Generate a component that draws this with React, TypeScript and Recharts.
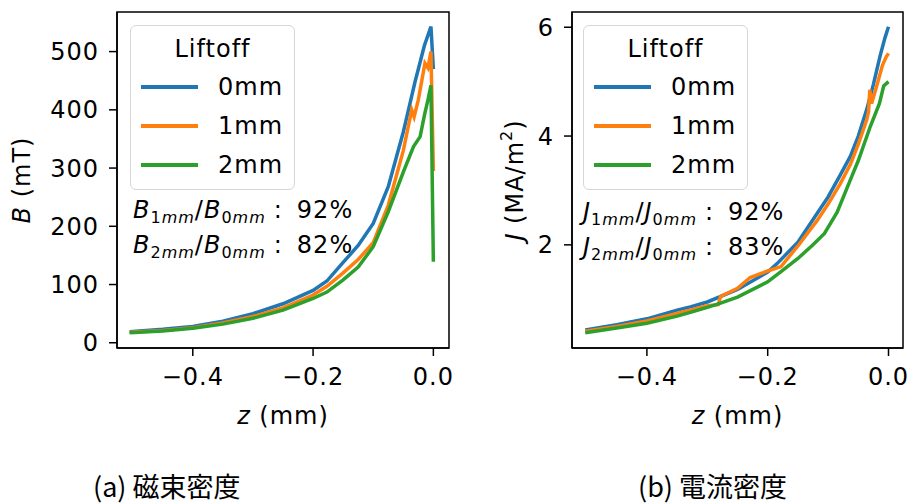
import React from 'react';
import { LineChart, Line, XAxis, YAxis, Legend, ReferenceArea } from 'recharts';

const FONT = '"DejaVu Sans", sans-serif';
const COLORS = ['#1f77b4', '#ff7f0e', '#2ca02c'];
const SERIES = ['0mm', '1mm', '2mm'];

// (a) magnetic flux density B (mT) vs z (mm)
const bZ0 = [-0.505, -0.45, -0.4, -0.35, -0.3, -0.25, -0.2, -0.177, -0.15, -0.125, -0.1, -0.075, -0.05, -0.03, -0.015, -0.004, 0];
const bVal0 = [19, 23, 28, 37, 50, 67, 90, 106, 138, 167, 205, 268, 362, 450, 510, 543, 470];
const bZ1 = [-0.505, -0.45, -0.4, -0.35, -0.3, -0.25, -0.2, -0.177, -0.15, -0.125, -0.1, -0.075, -0.05, -0.036, -0.032, -0.025, -0.014, -0.009, -0.004, 0];
const bVal1 = [18, 21, 26, 34, 45, 60, 82, 97, 120, 143, 172, 236, 330, 400, 388, 417, 480, 472, 500, 295];
const bZ2 = [-0.505, -0.45, -0.4, -0.35, -0.3, -0.25, -0.2, -0.177, -0.15, -0.125, -0.1, -0.075, -0.05, -0.033, -0.022, -0.015, -0.009, -0.004, 0];
const bVal2 = [17, 20, 25, 32, 42, 56, 76, 87, 108, 130, 165, 225, 293, 337, 354, 390, 417, 442, 139];
const bTicks = [0, 100, 200, 300, 400, 500];

// (b) current density J (MA/m2) vs z (mm)
const jZ0 = [-0.502, -0.45, -0.4, -0.35, -0.328, -0.3, -0.25, -0.2, -0.184, -0.15, -0.118, -0.1, -0.08, -0.063, -0.05, -0.036, -0.025, -0.014, -0.006, 0];
const jVal0 = [0.435, 0.53, 0.64, 0.8, 0.86, 0.95, 1.18, 1.5, 1.66, 2.05, 2.58, 2.88, 3.28, 3.63, 4.0, 4.49, 4.95, 5.47, 5.8, 6.01];
const jZ1 = [-0.502, -0.45, -0.4, -0.35, -0.3, -0.282, -0.278, -0.25, -0.229, -0.2, -0.178, -0.15, -0.118, -0.1, -0.08, -0.063, -0.05, -0.036, -0.033, -0.031, -0.028, -0.02, -0.01, -0.004, 0];
const jVal1 = [0.41, 0.5, 0.6, 0.74, 0.88, 0.9, 1.05, 1.2, 1.4, 1.52, 1.6, 1.98, 2.45, 2.75, 3.12, 3.48, 3.85, 4.3, 4.45, 4.85, 4.6, 4.9, 5.3, 5.45, 5.52];
const jZ2 = [-0.502, -0.45, -0.4, -0.35, -0.328, -0.3, -0.278, -0.25, -0.2, -0.178, -0.15, -0.125, -0.106, -0.085, -0.063, -0.05, -0.03, -0.015, -0.008, 0];
const jVal2 = [0.385, 0.47, 0.56, 0.69, 0.76, 0.85, 0.93, 1.04, 1.32, 1.51, 1.75, 2.0, 2.21, 2.6, 3.2, 3.55, 4.18, 4.6, 4.92, 5.0];
const jTicks = [2, 4, 6];

const zTicks = [-0.4, -0.2, 0];

const toRows = (zs: number[], vs: number[]) => zs.map((z, i) => ({ z, v: vs[i] }));

const fmtZ = (v: number) => (v === 0 ? '0.0' : '\u2212' + Math.abs(v).toFixed(1));

const tickStyle = { fontSize: 24, fill: '#000', fontFamily: FONT, letterSpacing: 1 };
const lineStyle = { stroke: '#000', strokeWidth: 1.5 };

function LegendBox({ payload }: any) {
    return (
        <div style={{
            width: 165, height: 165, boxSizing: 'border-box',
            border: '1.5px solid #d6d6d6', borderRadius: 6,
            background: 'rgba(255,255,255,0.85)', fontFamily: FONT,
            fontSize: 24, letterSpacing: 1, color: '#000', padding: '8px 0 0 0'
        }}>
            <div style={{ textAlign: 'center', lineHeight: '30px', marginBottom: 3 }}>Liftoff</div>
            {(payload || []).map((p: any) => (
                <div key={p.value} style={{ display: 'flex', alignItems: 'center', height: 39 }}>
                    <div style={{ width: 57, height: 4, background: p.color, marginLeft: 10, marginRight: 20 }} />
                    <span>{p.value}</span>
                </div>
            ))}
        </div>
    );
}

const xLabel = ({ viewBox }: any) => {
    const cx = viewBox.x + viewBox.width / 2;
    const cy = viewBox.y + 68;
    return (
        <text x={cx} y={cy} textAnchor="middle" dominantBaseline="central" fontSize={24} fontFamily={FONT} letterSpacing={1} fill="#000">
            <tspan fontStyle="italic">z</tspan> (mm)
        </text>
    );
};

const bLabel = ({ viewBox }: any) => {
    const cx = viewBox.x + 22;
    const cy = viewBox.y + viewBox.height / 2;
    return (
        <text x={cx} y={cy} transform={`rotate(-90 ${cx} ${cy})`} textAnchor="middle" dominantBaseline="central" fontSize={24} fontFamily={FONT} letterSpacing={1} fill="#000">
            <tspan fontStyle="italic">B</tspan> (mT)
        </text>
    );
};

const jLabel = ({ viewBox }: any) => {
    const cx = viewBox.x + 55;
    const cy = viewBox.y + viewBox.height / 2;
    return (
        <text x={cx} y={cy} transform={`rotate(-90 ${cx} ${cy})`} textAnchor="middle" dominantBaseline="central" fontSize={24} fontFamily={FONT} letterSpacing={1} fill="#000">
            <tspan fontStyle="italic">J</tspan> (MA/m<tspan fontSize={16} dy={-9}>2</tspan><tspan dy={9}>)</tspan>
        </text>
    );
};

function Panel({ width, yWidth, xDomain, yDomain, yTicks, series, yLabel, legendLeft }: any) {
    return (
        <LineChart width={width} height={440} margin={{ top: 12, right: 11, bottom: 12, left: 0 }}>
            <XAxis
                type="number" dataKey="z" domain={xDomain} ticks={zTicks} allowDataOverflow
                tickFormatter={fmtZ} tick={tickStyle} tickSize={8} tickMargin={12}
                axisLine={lineStyle} tickLine={lineStyle} height={80} label={xLabel}
            />
            <YAxis
                type="number" domain={yDomain} ticks={yTicks} allowDataOverflow
                tick={tickStyle} tickSize={8} tickMargin={10}
                axisLine={lineStyle} tickLine={lineStyle} width={yWidth} label={yLabel}
            />
            <ReferenceArea
                x1={xDomain[0]} x2={xDomain[1]} y1={yDomain[0]} y2={yDomain[1]}
                fill="none" fillOpacity={0} stroke="#000" strokeWidth={1.5} ifOverflow="visible"
            />
            <Legend
                layout="vertical" align="center" verticalAlign="middle"
                content={LegendBox}
                wrapperStyle={{ position: 'absolute', left: legendLeft, top: 25, width: 165, height: 165 }}
            />
            {series.map((d: any, i: number) => (
                <Line
                    key={SERIES[i]} name={SERIES[i]} data={d} dataKey="v" type="linear"
                    stroke={COLORS[i]} strokeWidth={3.5} dot={false} isAnimationActive={false}
                />
            ))}
        </LineChart>
    );
}

const annStyle: React.CSSProperties = {
    position: 'absolute', fontFamily: FONT, fontSize: 24, letterSpacing: 1, lineHeight: '32px', color: '#000', whiteSpace: 'nowrap'
};
const subStyle: React.CSSProperties = { fontSize: 16, position: 'relative', top: 5 };

function Ratio({ sym, a, b, pct }: { sym: string; a: string; b: string; pct: string }) {
    return (
        <div>
            <i>{sym}</i><span style={subStyle}>{a}<i>mm</i></span>/<i>{sym}</i><span style={subStyle}>{b}<i>mm</i></span>
            <span style={{ margin: '0 14px 0 8px' }}>:</span>{pct}
        </div>
    );
}

const captionStyle: React.CSSProperties = {
    position: 'absolute', top: 470, fontFamily: '"Noto Sans CJK JP", sans-serif', fontSize: 27,
    lineHeight: '32px', color: '#000', whiteSpace: 'nowrap'
};

export default function App() {
    const bSeries = [toRows(bZ0, bVal0), toRows(bZ1, bVal1), toRows(bZ2, bVal2)];
    const jSeries = [toRows(jZ0, jVal0), toRows(jZ1, jVal1), toRows(jZ2, jVal2)];
    return (
        <div style={{ position: 'absolute', left: 0, top: 0, width: 914, height: 504, background: '#fff' }}>
            <div style={{ position: 'absolute', left: 0, top: 0 }}>
                <Panel width={460} yWidth={117} xDomain={[-0.526, 0.026]} yDomain={[-9, 568]} yTicks={bTicks}
                    series={bSeries} yLabel={bLabel} legendLeft={130} />
            </div>
            <div style={{ position: 'absolute', left: 460, top: 0 }}>
                <Panel width={454} yWidth={112} xDomain={[-0.524, 0.024]} yDomain={[0.104, 6.28]} yTicks={jTicks}
                    series={jSeries} yLabel={jLabel} legendLeft={123} />
            </div>
            <div style={{ ...annStyle, left: 133, top: 194 }}>
                <Ratio sym="B" a="1" b="0" pct="92%" />
                <Ratio sym="B" a="2" b="0" pct="82%" />
            </div>
            <div style={{ ...annStyle, left: 583, top: 196 }}>
                <Ratio sym="J" a="1" b="0" pct="92%" />
                <Ratio sym="J" a="2" b="0" pct="83%" />
            </div>
            <div style={{ ...captionStyle, left: 93 }}>(a)&nbsp;磁束密度</div>
            <div style={{ ...captionStyle, left: 638 }}>(b)&nbsp;電流密度</div>
        </div>
    );
}
